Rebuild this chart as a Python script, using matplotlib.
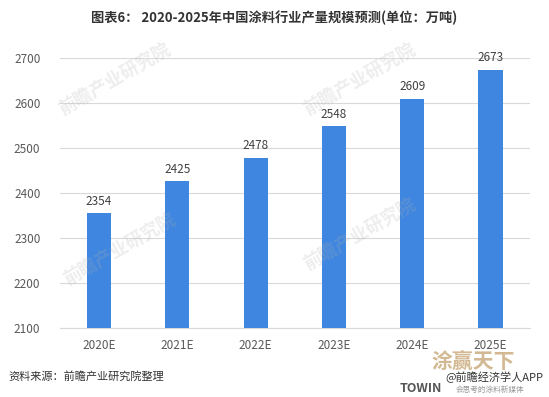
import matplotlib
matplotlib.use("Agg")
import matplotlib.pyplot as plt

plt.rcParams['font.family'] = ['Noto Sans CJK SC', 'DejaVu Sans']

categories = ["2020E", "2021E", "2022E", "2023E", "2024E", "2025E"]
values = [2354, 2425, 2478, 2548, 2609, 2673]
yticks = [2100, 2200, 2300, 2400, 2500, 2600, 2700]

W, H = 549, 397
fig = plt.figure(figsize=(W / 100, H / 100), dpi=100)
ax = fig.add_axes([0.109, 0.174, 0.856, 0.681])

x = list(range(len(categories)))
ax.bar(x, values, width=0.31, color="#3F86E0", zorder=3)
for xi, v in zip(x, values):
    ax.text(xi, v + 12, str(v), ha="center", va="bottom", fontsize=8.5, color="#404040")

ax.set_xlim(-0.5, len(categories) - 0.5)
ax.set_ylim(2100, 2700)
ax.set_yticks(yticks)
ax.set_xticks(x)
ax.set_xticklabels(categories)
ax.tick_params(axis="both", length=0, labelsize=8.5, labelcolor="#595959")
ax.tick_params(axis="y", pad=14)
ax.tick_params(axis="x", pad=8)
ax.grid(axis="y", color="#d9d9d9", linewidth=0.8, zorder=0)
for s in ax.spines.values():
    s.set_visible(False)
ax.spines["bottom"].set_visible(True)
ax.spines["bottom"].set_color("#d9d9d9")

# faint watermarks
for (px, py) in [(115, 80), (120, 250), (360, 80), (360, 235)]:
    fig.text(px / W, 1 - py / H, "前瞻产业研究院", fontsize=13, color="#b0b0b0",
             alpha=0.22, rotation=30, ha="center", va="center",
             fontweight="bold", zorder=10)

fig.text(0.5, 0.955, "图表6： 2020-2025年中国涂料行业产量规模预测(单位：万吨)",
         ha="center", va="center", fontsize=9.5, fontweight="bold", color="#333333")
fig.text(0.015, 0.053, "资料来源：前瞻产业研究院整理", ha="left", va="center",
         fontsize=8, color="#333333")

# bottom-right branding
fig.text(432 / W, 1 - 361 / H, "涂赢天下", ha="left", va="center", fontsize=15,
         color="#c8a878", alpha=0.8, fontweight="bold", zorder=11)
fig.text(445 / W, 1 - 377 / H, "@前瞻经济学人APP", ha="left", va="center",
         fontsize=8, color="#333333", zorder=12)
fig.text(400 / W, 1 - 389 / H, "TOWIN", ha="left", va="center", fontsize=9,
         color="#555555", fontweight="bold")
fig.text(456 / W, 1 - 390 / H, "会思考的涂料新媒体", ha="left", va="center",
         fontsize=5.5, color="#999999")

fig.savefig("out.png", dpi=100)
